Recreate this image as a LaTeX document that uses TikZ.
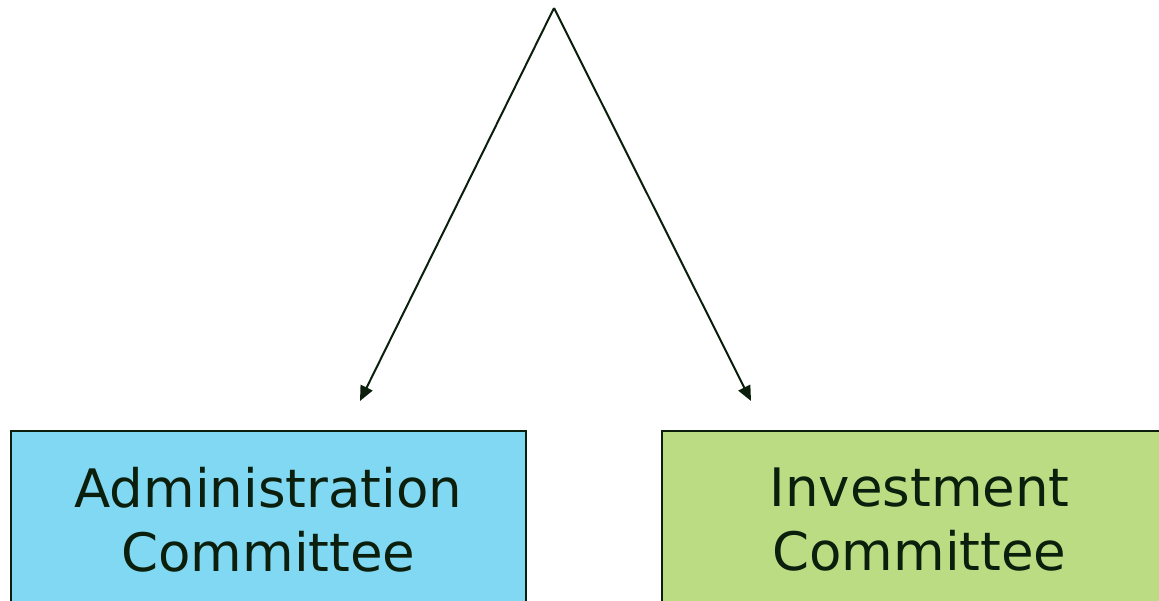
\documentclass[tikz,border=0pt]{standalone}
\usepackage{fontspec}
\setmainfont{DejaVu Sans}
\usetikzlibrary{arrows.meta}
\definecolor{inkc}{RGB}{12,30,12}
\definecolor{bluebox}{RGB}{128,216,242}
\definecolor{greenbox}{RGB}{188,220,132}
\tikzset{
  committee/.style={draw=inkc, line width=1.5pt, minimum width=515pt, minimum height=178pt,
    inner sep=0pt, align=center, text=inkc,
    font=\fontsize{53}{64}\selectfont},
  link/.style={draw=inkc, line width=2pt, -{Triangle[length=15pt,width=13pt]}}
}
\begin{document}
\begin{tikzpicture}[x=1pt,y=-1pt]
\useasboundingbox (0,0) rectangle (1159,600);
\clip (0,0) rectangle (1159,600);
\node[committee, fill=bluebox] (admin) at (268.5,520) {Administration\\Committee};
\node[committee, fill=greenbox] (invest) at (919.5,520) {Investment\\Committee};
\coordinate (apex) at (554,8);
\coordinate (lt) at (360,401);
\coordinate (rt) at (751,401);
\draw[link] (apex) -- (lt);
\draw[link] (apex) -- (rt);
\end{tikzpicture}
\end{document}
